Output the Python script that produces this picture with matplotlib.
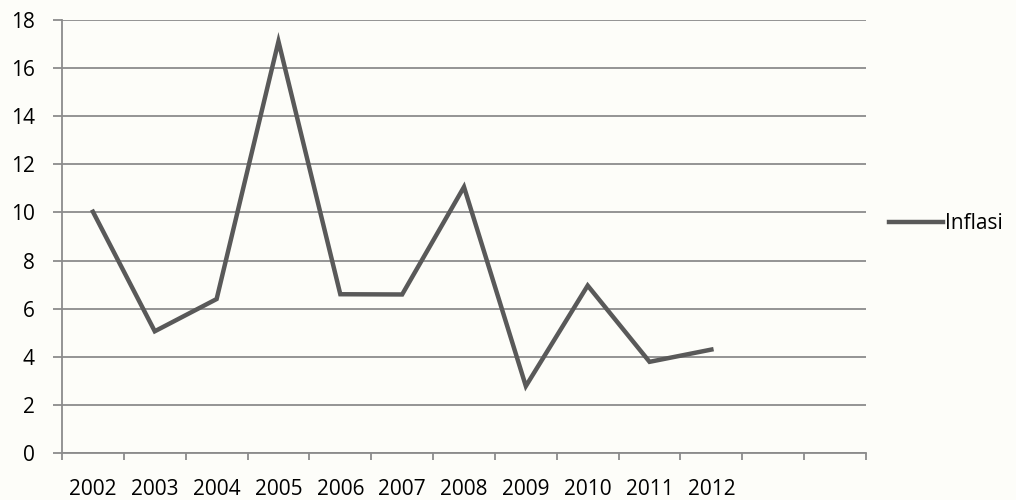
import numpy as np
import matplotlib.pyplot as plt

# Data
years = ["2002", "2003", "2004", "2005", "2006", "2007", "2008", "2009", "2010", "2011", "2012", "", ""]
inflasi = [10.03, 5.06, 6.40, 17.11, 6.60, 6.59, 11.06, 2.78, 6.96, 3.79, 4.30]

plt.rcParams['font.family'] = ['Open Sans', 'DejaVu Sans']

fig = plt.figure(figsize=(10.16, 5.0), dpi=100, facecolor='#fdfdf9')
ax = fig.add_axes([62 / 1016, 1 - 453 / 500, 804 / 1016, 433 / 500])
ax.set_facecolor('#fdfdf9')

x = np.arange(len(inflasi))
line, = ax.plot(x, inflasi, color='#595959', lw=3.2, solid_joinstyle='miter',
                label='Inflasi')

ax.set_xlim(-0.5, len(years) - 0.5)
ax.set_ylim(0, 18)
ax.set_yticks(np.arange(0, 19, 2))
ax.yaxis.grid(True, color='#8c8c8c', lw=1.3)
ax.set_axisbelow(True)

# category labels at centers, tick marks on boundaries
ax.set_xticks(np.arange(len(years)))
ax.set_xticklabels(years)
ax.set_xticks(np.arange(len(years) + 1) - 0.5, minor=True)
ax.tick_params(axis='x', which='major', length=0, pad=19, labelsize=15)
ax.tick_params(axis='x', which='minor', length=5, width=1.3, color='#8c8c8c')
ax.tick_params(axis='y', length=6.5, width=1.3, color='#8c8c8c', pad=13, labelsize=15)

for s in ['top', 'right']:
    ax.spines[s].set_visible(False)
for s in ['left', 'bottom']:
    ax.spines[s].set_color('#8c8c8c')
    ax.spines[s].set_linewidth(1.3)

leg = ax.legend(handles=[line], loc='center left', bbox_to_anchor=(1.028, 0.53),
                frameon=False, fontsize=15, handlelength=2.6, handletextpad=0.1,
                borderaxespad=0, borderpad=0)

fig.savefig('out.png', dpi=100, facecolor=fig.get_facecolor())
